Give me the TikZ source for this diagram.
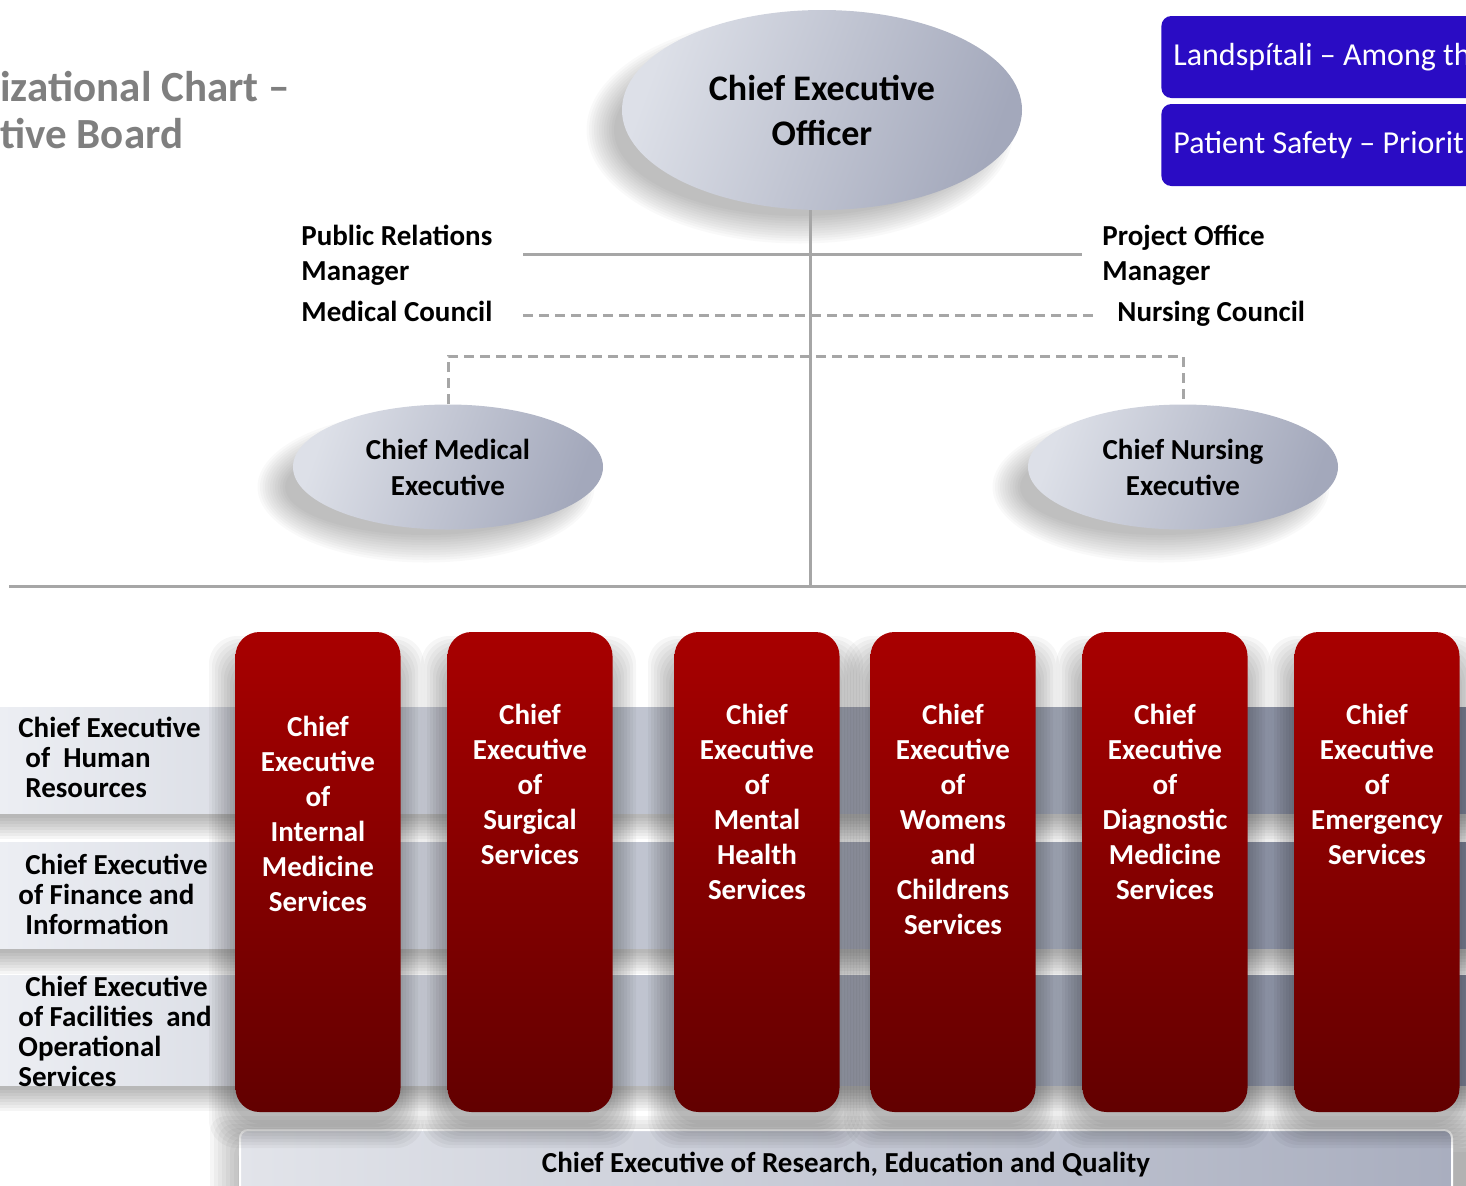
\documentclass[tikz,border=0pt]{standalone}
\usepackage{fontspec}
\setmainfont{Carlito}
\usetikzlibrary{shapes.geometric}

\definecolor{titlegray}{HTML}{7F7F7F}
\definecolor{bannerblue}{HTML}{2A0CC4}
\definecolor{linegray}{HTML}{A6A6A6}
\definecolor{ovallight}{HTML}{DDE0E8}
\definecolor{ovaldark}{HTML}{A3A8BB}
\definecolor{redtop}{HTML}{A80000}
\definecolor{redbot}{HTML}{620000}
\definecolor{bandlight}{HTML}{ECEEF3}
\definecolor{bandmid}{HTML}{A3A8B8}
\definecolor{banddark}{HTML}{878EA3}
\definecolor{barlight}{HTML}{E2E4EA}
\definecolor{bardark}{HTML}{A9AEBF}

\begin{document}
\begin{tikzpicture}[x=0.5pt, y=-0.5pt,
    oval/.style={ellipse, inner sep=0pt, left color=ovallight, right color=ovaldark,
      shading angle=70, align=center},
    redbox/.style={rectangle, rounded corners=12pt, inner sep=0pt, minimum width=82.5pt,
      minimum height=240pt, top color=redtop, bottom color=redbot},
    redtext/.style={text=white, align=center, anchor=north, inner sep=0pt,
      font=\fontsize{14.5}{17.5}\selectfont\bfseries},
    sidetext/.style={align=left, anchor=north west, inner sep=0pt,
      font=\fontsize{14.5}{15}\selectfont\bfseries},
    mgrtext/.style={align=left, anchor=north west, inner sep=0pt,
      font=\fontsize{14.5}{17.5}\selectfont\bfseries},
    banner/.style={fill=bannerblue, rounded corners=5pt, anchor=west, inner sep=0pt,
      minimum height=41pt, minimum width=170pt},
    bannertext/.style={text=white, anchor=west, inner sep=0pt, font=\fontsize{16}{19}\selectfont},
    rule/.style={draw=linegray, line width=1.5pt},
    dashrule/.style={rule, dash pattern=on 5pt off 3pt}]
\useasboundingbox (0,0) rectangle (1466,1185);

% title and banners
\node[align=left, anchor=north west, inner sep=0pt, text=titlegray,
  font=\fontsize{21.5}{23.5}\selectfont\bfseries] (title) at (0,71)
  {izational Chart –\\tive Board};
\node[banner] (landsp) at (1161,57) {};
\node[banner] (safety) at (1161,145) {};
\node[bannertext] (landsptext) at (1173,57) {Landspítali – Among th};
\node[bannertext] (safetytext) at (1173,145) {Patient Safety – Priorit};

% soft shadows of the ovals
\foreach \sx/\sy/\rx/\ry in {800/130/200/100, 426/487/155/62, 1161/487/155/62}
  \foreach \k in {0,...,11}
    \fill[black, opacity=0.025] (\sx,\sy) ellipse [x radius={\rx-14+2.5*\k}, y radius={\ry-14+2.5*\k}];

% connectors
\coordinate (bus) at (810,586);
\coordinate (prend) at (523,254);
\coordinate (poend) at (1082,254);
\coordinate (mcend) at (523,315);
\coordinate (ncend) at (1095,315);
\coordinate (left) at (9,586);
\coordinate (right) at (1466,586);
\draw[rule] (prend) -- (poend);
\draw[dashrule] (mcend) -- (ncend);
\draw[rule] (left) -- (right);

% ovals
\node[oval, minimum width=200pt, minimum height=100pt,
  font=\fontsize{18}{22.5}\selectfont\bfseries] (ceo) at (822,110) {Chief Executive\\Officer};
\node[oval, minimum width=155pt, minimum height=62.5pt,
  font=\fontsize{14.5}{18}\selectfont\bfseries] (cme) at (448,467) {Chief Medical\\Executive};
\node[oval, minimum width=155pt, minimum height=62.5pt,
  font=\fontsize{14.5}{18}\selectfont\bfseries] (cne) at (1183,467) {Chief Nursing\\Executive};

\draw[rule] (ceo.south -| bus) -- (bus);
\draw[dashrule] (cme.north) -- ++(0,-48) -| (cne.north);

% managers and councils
\node[mgrtext] (prm) at (301,225) {Public Relations\\Manager};
\node[mgrtext] (medc) at (301,301) {Medical Council};
\node[mgrtext] (pom) at (1102,225) {Project Office\\Manager};
\node[mgrtext] (nurc) at (1117,301) {Nursing Council};

% bands behind the chief executives
\foreach \top/\bot in {707/813, 842/948, 975/1085}{
  \foreach \k in {0,...,7}
    \fill[black, opacity=0.04] (-20,{\top+14-12+3*\k}) rectangle (1500,{\bot+14+12-3*\k});
  \fill[left color=bandlight, middle color=bandmid, right color=banddark] (0,\top) rectangle (1466,\bot);
}

% research bar
\foreach \k in {0,...,9}
  \fill[black, opacity=0.035, rounded corners=8pt] ({240-10-20+4*\k},{1130+6-20+4*\k}) rectangle (1500,1230);
\node[rectangle, rounded corners=4pt, draw=white, line width=1pt, left color=barlight, right color=bardark,
  minimum width=606pt, minimum height=35pt, inner sep=0pt,
  font=\fontsize{14.5}{17}\selectfont\bfseries] (cerq) at (846,1165)
  {Chief Executive of Research, Education and Quality};

% red boxes
\foreach \cx in {318,530,757,953,1165,1377}
  \foreach \k in {0,...,8}
    \fill[black, opacity=0.035, rounded corners=14pt] ({\cx-82-27+3*\k},{660-24+3*\k}) rectangle ({\cx+82+24-3*\k},{1112+12+24-3*\k});
\node[redbox] (ceim) at (318,872) {};
\node[redbox] (cesu) at (530,872) {};
\node[redbox] (cemh) at (757,872) {};
\node[redbox] (cewc) at (953,872) {};
\node[redbox] (cedm) at (1165,872) {};
\node[redbox] (ceem) at (1377,872) {};
\node[redtext] (ceimtext) at (318,716) {Chief\\Executive\\of\\Internal\\Medicine\\Services};
\node[redtext] (cesutext) at (530,704) {Chief\\Executive\\of\\Surgical\\Services};
\node[redtext] (cemhtext) at (757,704) {Chief\\Executive\\of\\Mental\\Health\\Services};
\node[redtext] (cewctext) at (953,704) {Chief\\Executive\\of\\Womens\\and\\Childrens\\Services};
\node[redtext] (cedmtext) at (1165,704) {Chief\\Executive\\of\\Diagnostic\\Medicine\\Services};
\node[redtext] (ceemtext) at (1377,704) {Chief\\Executive\\of\\Emergency\\Services};

% staff executives on the bands
\node[sidetext] (cehr) at (18,717) {Chief Executive\\\hspace{3.5pt}of\ \ Human\\\hspace{3.5pt}Resources};
\node[sidetext] (cefi) at (18,854) {\hspace{3.5pt}Chief Executive\\of Finance and\\\hspace{3.5pt}Information};
\node[sidetext] (cefo) at (18,976) {\hspace{3.5pt}Chief Executive\\of Facilities\ \ and\\Operational\\Services};
\end{tikzpicture}
\end{document}
